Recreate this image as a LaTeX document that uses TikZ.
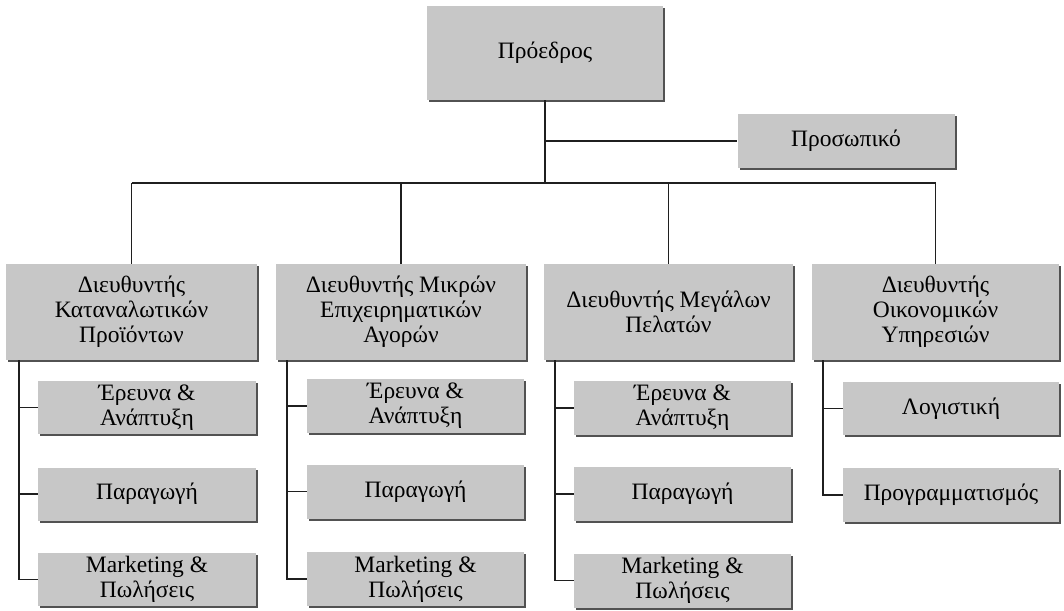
\documentclass[tikz,border=0pt]{standalone}
\usepackage{fontspec}
\setmainfont{Liberation Serif}
\usetikzlibrary{shadows}

\begin{document}
\begin{tikzpicture}[x=1pt, y=-1pt,
  box/.style={fill=black!22, draw=none, inner sep=0pt, align=center,
    font=\fontsize{23.5}{25}\selectfont,
    general shadow={fill=black!68, shadow xshift=2.2pt, shadow yshift=-2.2pt}},
  link/.style={draw=black!88, line width=1.1pt}]
\useasboundingbox (0,0) rectangle (1064,610);

% top level
\node[box, minimum width=236, minimum height=94] (pres) at (545,53) {Πρόεδρος};
\node[box, minimum width=217, minimum height=54] (staff) at (846,141) {Προσωπικό};

% directors
\node[box, minimum width=251, minimum height=96] (d1) at (131.5,312) {Διευθυντής\\Καταναλωτικών\\Προϊόντων};
\node[box, minimum width=250, minimum height=96] (d2) at (401,312) {Διευθυντής Μικρών\\Επιχειρηματικών\\Αγορών};
\node[box, minimum width=249, minimum height=96] (d3) at (668.5,312) {Διευθυντής Μεγάλων\\Πελατών};
\node[box, minimum width=247, minimum height=96] (d4) at (935.5,312) {Διευθυντής\\Οικονομικών\\Υπηρεσιών};

% departments, column 1
\node[box, minimum width=218, minimum height=53] (s11) at (147,407.5) {Έρευνα \&\\Ανάπτυξη};
\node[box, minimum width=218, minimum height=53] (s12) at (147,494) {Παραγωγή};
\node[box, minimum width=218, minimum height=53] (s13) at (147,579.5) {Marketing \&\\Πωλήσεις};
% column 2
\node[box, minimum width=217, minimum height=54] (s21) at (415.5,406) {Έρευνα \&\\Ανάπτυξη};
\node[box, minimum width=217, minimum height=54] (s22) at (415.5,491.5) {Παραγωγή};
\node[box, minimum width=217, minimum height=54] (s23) at (415.5,579) {Marketing \&\\Πωλήσεις};
% column 3
\node[box, minimum width=217, minimum height=54] (s31) at (682.5,408) {Έρευνα \&\\Ανάπτυξη};
\node[box, minimum width=217, minimum height=54] (s32) at (682.5,494) {Παραγωγή};
\node[box, minimum width=217, minimum height=54] (s33) at (682.5,580.5) {Marketing \&\\Πωλήσεις};
% column 4
\node[box, minimum width=216, minimum height=53] (s41) at (951,408.5) {Λογιστική};
\node[box, minimum width=216, minimum height=54] (s42) at (951,495) {Προγραμματισμός};

% connector guides
\coordinate (bar) at (0,183);
\coordinate (t1) at (19,0);
\coordinate (t2) at (287,0);
\coordinate (t3) at (555,0);
\coordinate (t4) at (823,0);

% president to staff and to the directors' bar
\draw[link] (pres.south) -- (pres.south |- bar);
\draw[link] (pres.south |- staff.west) -- (staff.west);
\draw[link] (d1.north |- bar) -- (d4.north |- bar);
\foreach \d in {d1,d2,d3,d4} \draw[link] (\d.north |- bar) -- (\d.north);

% directors to departments
\draw[link] (t1 |- d1.south) |- (s13.west);
\draw[link] (t1 |- s11.west) -- (s11.west);
\draw[link] (t1 |- s12.west) -- (s12.west);
\draw[link] (t2 |- d2.south) |- (s23.west);
\draw[link] (t2 |- s21.west) -- (s21.west);
\draw[link] (t2 |- s22.west) -- (s22.west);
\draw[link] (t3 |- d3.south) |- (s33.west);
\draw[link] (t3 |- s31.west) -- (s31.west);
\draw[link] (t3 |- s32.west) -- (s32.west);
\draw[link] (t4 |- d4.south) |- (s42.west);
\draw[link] (t4 |- s41.west) -- (s41.west);
\end{tikzpicture}
\end{document}
